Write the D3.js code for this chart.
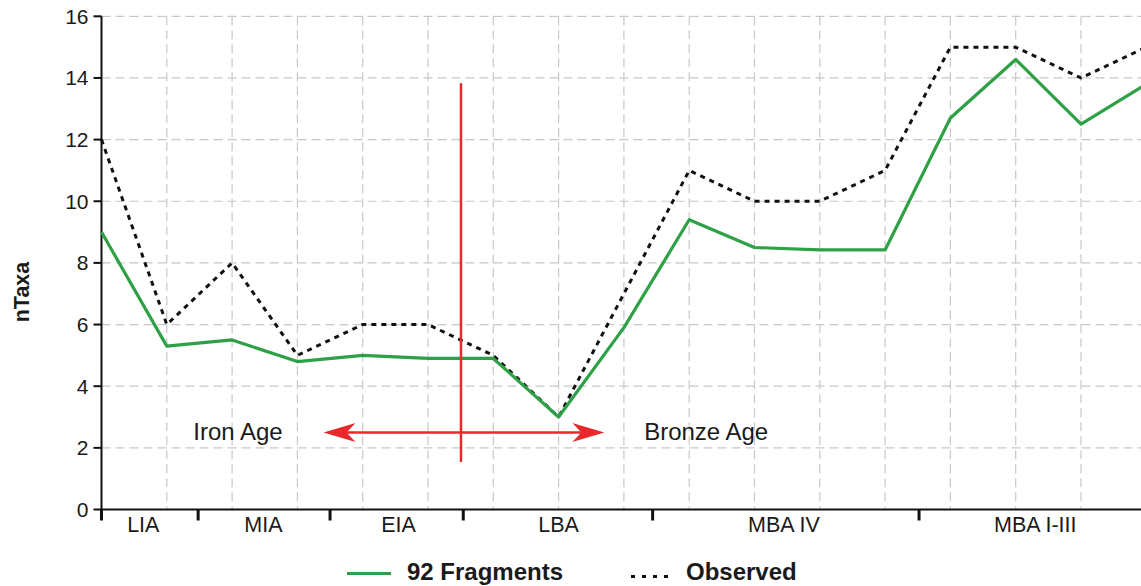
<!DOCTYPE html>
<html>
<head>
<meta charset="utf-8">
<script src="https://cdn.jsdelivr.net/npm/d3@7/dist/d3.min.js"></script>
<style>
  body { margin: 0; background: #fff; }
  svg { display: block; font-family: "Liberation Sans", Arial, sans-serif; }
</style>
</head>
<body>
<div id="chart"></div>
<script>
// values, one per grid column
const fragments = [9.0, 5.3, 5.5, 4.8, 5.0, 4.9, 4.9, 3.0, 5.9, 9.4, 8.5, 8.42, 8.42, 12.7, 14.6, 12.5, 13.8];
const observed  = [12, 6, 8, 5, 6, 6, 5, 3, 7, 11, 10, 10, 11, 15, 15, 14, 15];

// periods on the x axis (in column units)
const periodNames  = ["LIA", "MIA", "EIA", "LBA", "MBA IV", "MBA I-III"];
const periodBreaks = [0, 1.48, 3.5, 5.54, 8.44, 12.52];
const periodLabelAt = [0.64, 2.48, 4.55, 7.0, 10.45, 14.3];

const yTicks = [0, 2, 4, 6, 8, 10, 12, 14, 16];

const width = 1141, height = 586;
const margin = {left: 101.5, top: 16.3, bottom: 76.5};

const svg = d3.select("#chart").append("svg")
    .attr("width", width)
    .attr("height", height);

const x = d3.scaleLinear().domain([0, 16]).range([margin.left, margin.left + 16 * 65.3]);
const y = d3.scaleLinear().domain([0, 16]).range([height - margin.bottom, margin.top]);

// grid
const grid = svg.append("g").attr("stroke", "#c8c8c8").attr("stroke-width", 1.2)
    .attr("stroke-dasharray", "9,5");
grid.selectAll("line.h").data(yTicks.filter(d => d > 0)).enter().append("line")
    .attr("x1", x(0)).attr("x2", width)
    .attr("y1", d => y(d)).attr("y2", d => y(d));
grid.selectAll("line.v").data(d3.range(1, 16)).enter().append("line")
    .attr("x1", d => x(d)).attr("x2", d => x(d))
    .attr("y1", y(16)).attr("y2", y(0));

// axes
svg.append("line").attr("x1", x(0)).attr("x2", x(0)).attr("y1", y(16)).attr("y2", y(0))
    .attr("stroke", "#111").attr("stroke-width", 2);
svg.append("line").attr("x1", x(0) - 1).attr("x2", width).attr("y1", y(0)).attr("y2", y(0))
    .attr("stroke", "#111").attr("stroke-width", 2);

const yt = svg.append("g");
yt.selectAll("line").data(yTicks).enter().append("line")
    .attr("x1", x(0) - 8).attr("x2", x(0))
    .attr("y1", d => y(d)).attr("y2", d => y(d))
    .attr("stroke", "#111").attr("stroke-width", 2);
yt.selectAll("text").data(yTicks).enter().append("text")
    .attr("x", x(0) - 13).attr("y", d => y(d) + 7.5)
    .attr("text-anchor", "end")
    .attr("font-size", 21)
    .attr("fill", "#1a1a1a")
    .text(d => d);

svg.append("text")
    .attr("transform", "translate(29,292) rotate(-90)")
    .attr("text-anchor", "middle")
    .attr("font-size", 21.5)
    .attr("font-weight", "bold")
    .attr("fill", "#1a1a1a")
    .text("nTaxa");

// period ticks + labels
svg.selectAll("line.period").data(periodBreaks).enter().append("line")
    .attr("x1", d => x(d)).attr("x2", d => x(d))
    .attr("y1", y(0)).attr("y2", y(0) + 11)
    .attr("stroke", "#111").attr("stroke-width", 3);
svg.selectAll("text.period").data(periodNames).enter().append("text")
    .attr("x", (d, i) => x(periodLabelAt[i]))
    .attr("y", y(0) + 22)
    .attr("text-anchor", "middle")
    .attr("font-size", 21.5)
    .attr("fill", "#1a1a1a")
    .text(d => d);

// series
const line = d3.line().x((d, i) => x(i)).y(d => y(d));
svg.append("path").datum(observed)
    .attr("d", line)
    .attr("fill", "none")
    .attr("stroke", "#111")
    .attr("stroke-width", 3)
    .attr("stroke-dasharray", "5,5");
svg.append("path").datum(fragments)
    .attr("d", line)
    .attr("fill", "none")
    .attr("stroke", "#2ea147")
    .attr("stroke-width", 3.2)
    .attr("stroke-linejoin", "round");

// iron age / bronze age annotation
const red = "#e8282a";
const divideAt = 5.505, arrowY = 2.5;
svg.append("line")
    .attr("x1", x(divideAt)).attr("x2", x(divideAt))
    .attr("y1", y(13.83)).attr("y2", y(1.54))
    .attr("stroke", red).attr("stroke-width", 2.5);
const leftTip = x(3.4), rightTip = x(7.7), ay = y(arrowY);
svg.append("line")
    .attr("x1", leftTip + 20).attr("x2", rightTip - 20)
    .attr("y1", ay).attr("y2", ay)
    .attr("stroke", red).attr("stroke-width", 2.5);
function head(tip, dir) {
  const p = d3.path();
  p.moveTo(tip, ay);
  p.lineTo(tip + dir * 32, ay - 9.5);
  p.lineTo(tip + dir * 23, ay);
  p.lineTo(tip + dir * 32, ay + 9.5);
  p.closePath();
  return p.toString();
}
svg.append("path").attr("d", head(leftTip, 1)).attr("fill", red);
svg.append("path").attr("d", head(rightTip, -1)).attr("fill", red);

svg.append("text").attr("x", x(2.09)).attr("y", ay + 8)
    .attr("text-anchor", "middle").attr("font-size", 24).attr("fill", "#1a1a1a")
    .text("Iron Age");
svg.append("text").attr("x", x(9.26)).attr("y", ay + 8)
    .attr("text-anchor", "middle").attr("font-size", 24).attr("fill", "#1a1a1a")
    .text("Bronze Age");

// legend
const legY = 573.5;
svg.append("line").attr("x1", 347).attr("x2", 391).attr("y1", legY).attr("y2", legY)
    .attr("stroke", "#2ea147").attr("stroke-width", 3);
svg.append("text").attr("x", 407).attr("y", legY + 6.5)
    .attr("font-size", 24).attr("font-weight", "bold").attr("fill", "#1a1a1a")
    .text("92 Fragments");
svg.append("line").attr("x1", 631).attr("x2", 672).attr("y1", legY + 3).attr("y2", legY + 3)
    .attr("stroke", "#111").attr("stroke-width", 3).attr("stroke-dasharray", "4,7");
svg.append("text").attr("x", 686).attr("y", legY + 6.5)
    .attr("font-size", 24).attr("font-weight", "bold").attr("fill", "#1a1a1a")
    .text("Observed");
</script>
</body>
</html>
